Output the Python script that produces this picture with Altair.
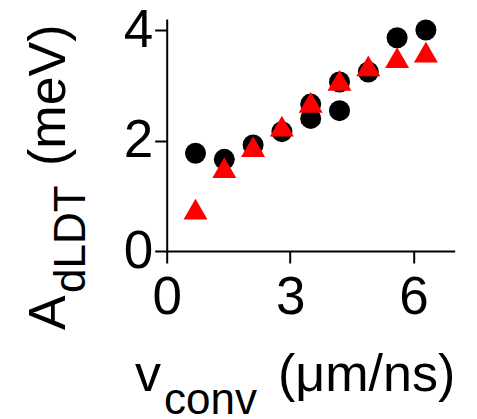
import altair as alt
import pandas as pd

# ---- data ----
circle_x = [0.7, 1.4, 2.1, 2.8, 3.5, 3.5, 4.2, 4.2, 4.9, 5.6, 6.3]
circle_y = [1.77, 1.66, 1.92, 2.16, 2.40, 2.66, 2.54, 3.06, 3.24, 3.86, 4.00]
tri_x = [0.7, 1.4, 2.1, 2.8, 3.5, 4.2, 4.9, 5.6, 6.3]
tri_y = [0.76, 1.51, 1.89, 2.26, 2.69, 3.09, 3.35, 3.50, 3.60]
x_ticks = [0, 3, 6]
y_ticks = [0, 2, 4]
x_title_main = ["v"]
x_title_sub = ["conv"]
x_title_unit = ["(\u03bcm/ns)"]
y_title_main = ["A"]
y_title_sub = ["dLDT"]
y_title_unit = ["(meV)"]

FONT = "Liberation Sans"
TITLE_SIZE = 52
SUB_SIZE = 44
TICK_SIZE = 53

circ_df = pd.DataFrame({"v": circle_x, "A": circle_y})
tri_df = pd.DataFrame({"v": tri_x, "A": tri_y})

xs = alt.Scale(domain=[0, 7], nice=False, zero=False)
ys = alt.Scale(domain=[0, 4.2], nice=False, zero=False)

x_axis = alt.Axis(values=x_ticks, title=None, grid=False, labelFont=FONT,
                  labelFontSize=TICK_SIZE, labelColor="black", labelPadding=8,
                  labelFlush=False, labelOverlap=False,
                  tickSize=12, tickWidth=2, tickColor="black",
                  domainColor="black", domainWidth=2, format="d")
y_axis = alt.Axis(values=y_ticks, title=None, grid=False, labelFont=FONT,
                  labelFontSize=TICK_SIZE, labelColor="black", labelPadding=2,
                  labelFlush=False, labelOverlap=False,
                  tickSize=12, tickWidth=2, tickColor="black",
                  domainColor="black", domainWidth=2, format="d")

circles = alt.Chart(circ_df).mark_point(
    shape="circle", filled=True, size=441, color="black", opacity=1
).encode(x=alt.X("v:Q", scale=xs, axis=x_axis), y=alt.Y("A:Q", scale=ys, axis=y_axis))

triangles = alt.Chart(tri_df).mark_point(
    shape="triangle-up", filled=True, size=576, color="#ff0000", opacity=1
).encode(x=alt.X("v:Q", scale=xs), y=alt.Y("A:Q", scale=ys))


def label(txt, px, py, size, angle=0):
    df = pd.DataFrame({"t": txt})
    kw = dict(font=FONT, fontSize=size, color="black", align="left",
              baseline="alphabetic")
    if angle:
        kw["angle"] = angle
    return alt.Chart(df).mark_text(**kw).encode(
        text="t:N", x=alt.value(px), y=alt.value(py))


texts = [
    label(x_title_main, -31.7, 372, TITLE_SIZE),
    label(x_title_sub, -2.7, 395, SUB_SIZE),
    label(x_title_unit, 111.3, 372, TITLE_SIZE),
    label(y_title_main, -101.7, 311, TITLE_SIZE, 270),
    label(y_title_sub, -81.7, 274, SUB_SIZE, 270),
    label(y_title_unit, -101.7, 147, TITLE_SIZE, 270),
]

chart = alt.layer(circles, triangles, *texts).properties(
    width=288, height=232,
    padding={"left": 158.7, "top": 11, "right": 14.3, "bottom": 168},
    autosize=alt.AutoSizeParams(type="none"),
).configure_view(stroke=None)

chart.save("out.html", embed_options={"renderer": "svg", "actions": False})
